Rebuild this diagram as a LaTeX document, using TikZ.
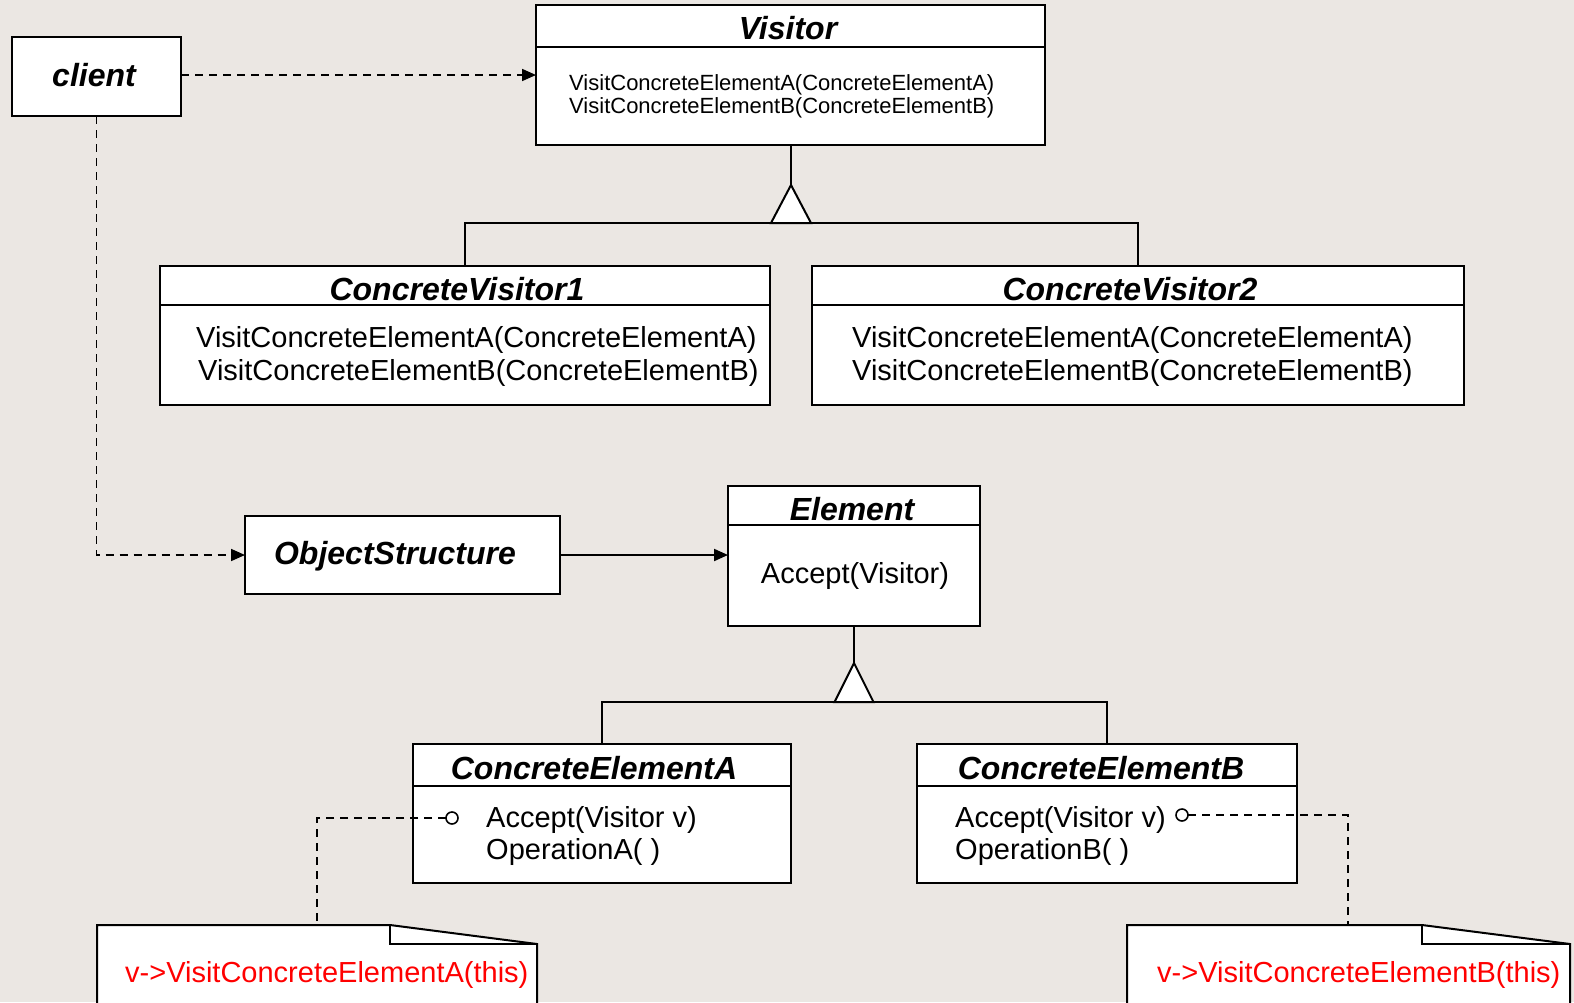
\documentclass[tikz,border=0pt]{standalone}
\usepackage{fontspec}
\setmainfont{Liberation Sans}
\usetikzlibrary{arrows.meta}
\definecolor{bg}{RGB}{235,231,227}
\definecolor{notered}{RGB}{255,0,0}
\begin{document}
\begin{tikzpicture}[x=1pt,y=-1pt,
  cls/.style={draw,line width=2pt,fill=white,inner sep=0pt,outer sep=0pt,rectangle},
  ttl/.style={inner sep=0pt,anchor=base,font={\fontsize{32}{38}\selectfont\bfseries\itshape}},
  op/.style={inner sep=0pt,anchor=base west,font={\fontsize{29}{32}\selectfont}},
  opsmall/.style={inner sep=0pt,anchor=base west,font={\fontsize{22}{24}\selectfont}},
  notetxt/.style={inner sep=0pt,anchor=base west,text=notered,font={\fontsize{29}{32}\selectfont}},
  lw/.style={line width=2pt},
  dsh/.style={line width=1.7pt,dash pattern=on 8pt off 6pt},
  arr/.style={-{Triangle[length=14pt,width=12pt]}},
  knob/.style={circle,draw,line width=1.6pt,fill=white,minimum size=12pt,inner sep=0pt,outer sep=0pt}
]
\useasboundingbox (0,0) rectangle (1574,1002);
\fill[bg] (0,0) rectangle (1574,1002);

% classes
\node[cls,minimum width=169pt,minimum height=79pt] (client) at (96.5,76.5) {};
\node[ttl] (clientT) at (94,86) {client};

\node[cls,minimum width=509pt,minimum height=140pt] (vis) at (790.5,75) {};
\draw[lw] (vis.west |- 0,47) -- (vis.east |- 0,47);
\node[ttl] (visT) at (788,39.5) {Visitor};
\node[opsmall] (visA) at (569,90) {VisitConcreteElementA(ConcreteElementA)};
\node[opsmall] (visB) at (569,113) {VisitConcreteElementB(ConcreteElementB)};

\node[cls,minimum width=610pt,minimum height=139pt] (cv1) at (465,335.5) {};
\draw[lw] (cv1.west |- 0,305) -- (cv1.east |- 0,305);
\node[ttl] (cv1T) at (457,300) {ConcreteVisitor1};
\node[op] (cv1A) at (196,347) {VisitConcreteElementA(ConcreteElementA)};
\node[op] (cv1B) at (198,380) {VisitConcreteElementB(ConcreteElementB)};

\node[cls,minimum width=652pt,minimum height=139pt] (cv2) at (1138,335.5) {};
\draw[lw] (cv2.west |- 0,305) -- (cv2.east |- 0,305);
\node[ttl] (cv2T) at (1130,300) {ConcreteVisitor2};
\node[op] (cv2A) at (852,347) {VisitConcreteElementA(ConcreteElementA)};
\node[op] (cv2B) at (852,380) {VisitConcreteElementB(ConcreteElementB)};

\node[cls,minimum width=315pt,minimum height=78pt] (os) at (402.5,555) {};
\node[ttl] (osT) at (395,564) {ObjectStructure};

\node[cls,minimum width=252pt,minimum height=140pt] (el) at (854,556) {};
\draw[lw] (el.west |- 0,525) -- (el.east |- 0,525);
\node[ttl] (elT) at (852,520) {Element};
\node[op,anchor=base] (elA) at (855,583) {Accept(Visitor)};

\node[cls,minimum width=378pt,minimum height=139pt] (cea) at (602,813.5) {};
\draw[lw] (cea.west |- 0,786) -- (cea.east |- 0,786);
\node[ttl] (ceaT) at (594,779) {ConcreteElementA};
\node[op] (ceaA) at (486,827) {Accept(Visitor v)};
\node[op] (ceaB) at (486,859) {OperationA( )};

\node[cls,minimum width=380pt,minimum height=139pt] (ceb) at (1107,813.5) {};
\draw[lw] (ceb.west |- 0,786) -- (ceb.east |- 0,786);
\node[ttl] (cebT) at (1101,779) {ConcreteElementB};
\node[op] (cebA) at (955,827) {Accept(Visitor v)};
\node[op] (cebB) at (955,859) {OperationB( )};

% notes
\draw[lw,fill=white] (97,925) -- (390,925) -- (537,944) -- (537,1010) -- (97,1010) -- cycle;
\draw[lw] (390,925) -- (390,944) -- (537,944);
\node[notetxt] (noteA) at (125,982) {v->VisitConcreteElementA(this)};
\coordinate (na) at (317,925);

\draw[lw,fill=white] (1127,925) -- (1422,925) -- (1570,944) -- (1570,1010) -- (1127,1010) -- cycle;
\draw[lw] (1422,925) -- (1422,944) -- (1570,944);
\node[notetxt] (noteB) at (1157,982) {v->VisitConcreteElementB(this)};
\coordinate (nb) at (1348,925);

% inheritance: Visitor
\coordinate (tv) at (791,185);
\coordinate (tvb) at (791,223);
\draw[lw] (vis.south -| tv) -- (tv);
\draw[lw] (cv1.north) |- (tvb) -| (cv2.north);
\draw[lw,fill=white,line join=miter] (tv) -- ++(20,38) -- ++(-40,0) -- cycle;

% inheritance: Element
\coordinate (te) at (854,663);
\coordinate (teb) at (854,702);
\draw[lw] (el.south) -- (te);
\draw[lw] (cea.north) |- (teb) -| (ceb.north);
\draw[lw,fill=white,line join=miter] (te) -- ++(19.5,39) -- ++(-39,0) -- cycle;

% dependencies
\draw[dsh,arr] (client.east |- 0,75) -- (vis.west |- 0,75);
\draw[dsh,arr] (client.south) |- (os.west);
\draw[lw,arr] (os.east) -- (el.west |- os.east);

% note links
\node[knob] (ka) at (452,818) {};
\node[knob] (kb) at (1182,815) {};
\draw[dsh] (ka.west) -| (na);
\draw[dsh] (kb.east) -| (nb);
\end{tikzpicture}
\end{document}
